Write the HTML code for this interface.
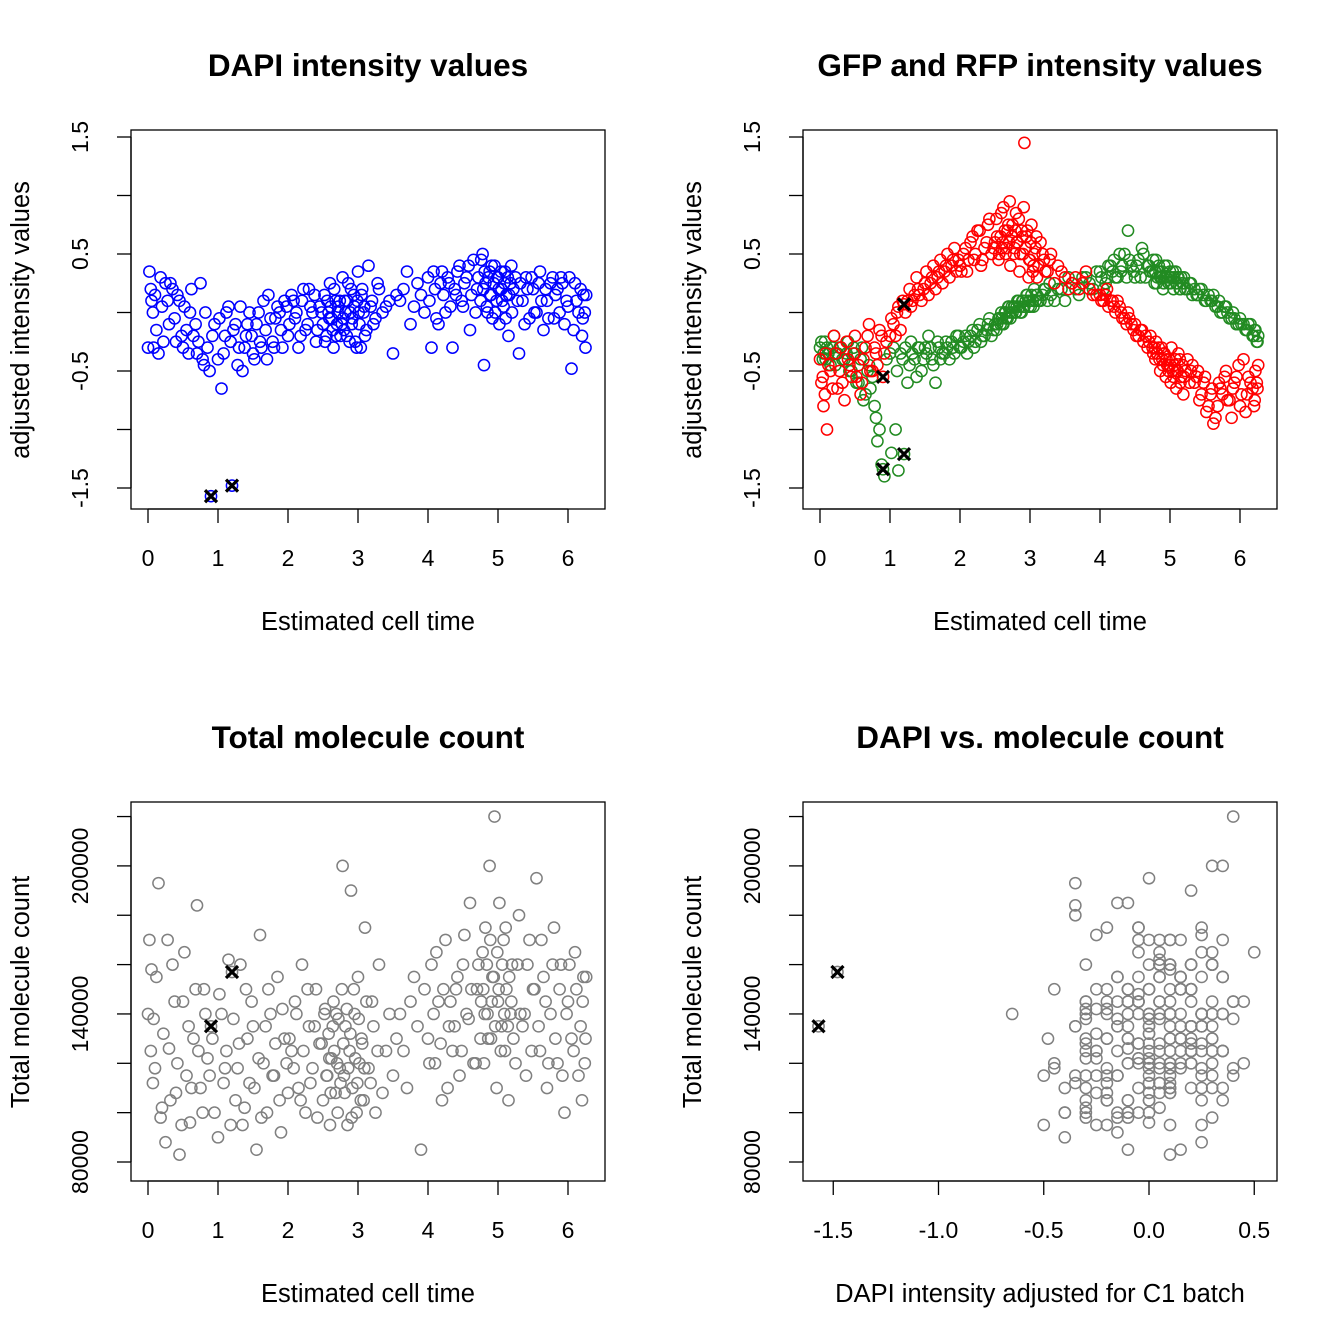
<!DOCTYPE html>
<html><head><meta charset="utf-8"><style>
html,body{margin:0;padding:0;background:#fff}
svg{display:block;font-family:"Liberation Sans",sans-serif}
</style></head><body>
<svg id="s" width="1344" height="1344" viewBox="0 0 1344 1344"></svg>
<script>
const timesA=[0.02,0.05,0.08,0.1,0.15,0.2,0.25,0.3,0.35,0.4,0.45,0.5,0.55,0.6,0.65,0.7,0.75,0.8,0.85,0.95,
1.0,1.05,1.1,1.15,1.25,1.3,1.35,1.4,1.45,1.5,1.55,1.6,1.65,1.7,1.75,1.8,1.85,1.9,1.95,2.0,
2.05,2.1,2.15,2.2,2.25,2.3,2.35,2.4,2.45,2.5,2.52,2.55,2.58,2.6,2.62,2.65,2.68,2.7,2.72,2.75,
2.78,2.8,2.82,2.85,2.88,2.9,2.92,2.95,2.98,3.0,3.02,3.05,3.08,3.1,3.15,3.2,3.25,3.3,3.4,3.5,
3.6,3.7,3.8,3.9,4.0,4.05,4.1,4.15,4.2,4.25,4.3,4.35,4.4,4.45,4.5,4.55,4.6,4.65,4.7,4.75,
4.78,4.8,4.82,4.85,4.88,4.9,4.92,4.95,4.98,5.0,5.02,5.05,5.08,5.1,5.12,5.15,5.18,5.2,5.25,5.3,
5.35,5.4,5.45,5.5,5.55,5.6,5.65,5.7,5.75,5.8,5.85,5.9,5.95,6.0,6.05,6.1,6.15,6.2,6.22,6.25];
const timesB=[0.0,0.04,0.07,0.12,0.18,0.22,0.28,0.32,0.38,0.42,0.48,0.52,0.58,0.62,0.68,0.72,0.78,0.82,0.88,0.92,
1.02,1.08,1.12,1.18,1.22,1.28,1.32,1.38,1.42,1.48,1.52,1.58,1.62,1.68,1.72,1.78,1.82,1.88,1.92,1.98,
2.02,2.08,2.12,2.18,2.22,2.28,2.32,2.38,2.42,2.48,2.53,2.56,2.59,2.61,2.64,2.66,2.69,2.71,2.74,2.77,
2.79,2.81,2.84,2.86,2.89,2.91,2.94,2.96,2.99,3.01,3.04,3.06,3.09,3.12,3.18,3.22,3.28,3.35,3.45,3.55,
3.65,3.75,3.85,3.95,4.02,4.08,4.12,4.18,4.22,4.28,4.32,4.38,4.42,4.48,4.52,4.58,4.62,4.68,4.72,4.76,
4.79,4.81,4.84,4.86,4.89,4.91,4.94,4.96,4.99,5.01,5.04,5.06,5.09,5.11,5.14,5.16,5.19,5.22,5.28,5.32,
5.38,5.42,5.48,5.52,5.58,5.62,5.68,5.72,5.78,5.82,5.88,5.92,5.98,6.02,6.08,6.12,6.18,6.21,6.24,6.26];
const dapiA=[0.35,0.1,-0.3,0.15,-0.35,0.05,0.25,-0.1,0.2,-0.25,0.1,-0.3,-0.15,0.0,-0.2,-0.35,0.25,-0.45,-0.3,-0.1,
-0.4,-0.65,-0.2,0.05,-0.1,-0.3,-0.5,-0.2,0.0,-0.35,-0.1,-0.25,0.1,-0.4,-0.05,-0.3,0.05,-0.15,0.1,-0.2,
0.15,-0.05,-0.3,0.1,-0.15,0.2,0.0,-0.25,0.05,-0.1,0.15,-0.2,0.0,0.25,-0.05,-0.3,0.1,-0.1,0.05,-0.2,
0.3,-0.15,0.0,0.1,-0.25,0.2,-0.05,0.05,-0.3,0.35,-0.1,0.15,0.0,-0.2,0.4,0.1,-0.05,0.2,0.05,-0.35,
0.1,0.35,0.05,0.15,0.3,-0.3,0.2,-0.1,0.35,0.0,0.25,-0.3,0.15,0.4,0.05,0.3,-0.15,0.45,0.2,0.1,
0.5,-0.45,0.25,0.0,0.35,0.15,-0.05,0.4,0.1,0.3,-0.1,0.2,0.05,0.35,0.15,-0.2,0.25,0.0,0.3,-0.35,
0.1,0.3,-0.05,0.2,0.0,0.35,-0.15,0.1,0.25,-0.05,0.2,0.3,-0.1,0.05,-0.48,0.25,0.0,-0.2,0.15,-0.3];
const dapiB=[-0.3,0.2,0.0,-0.15,0.3,-0.25,0.1,0.25,-0.05,0.15,-0.2,0.05,-0.35,0.2,-0.1,-0.25,-0.4,0.0,-0.5,-0.2,
-0.05,-0.35,0.0,-0.25,-0.15,-0.45,0.05,-0.3,-0.1,-0.2,-0.4,0.0,-0.3,-0.15,0.15,-0.25,-0.05,0.0,-0.3,0.05,
-0.1,0.1,0.0,-0.2,0.2,-0.1,0.05,0.15,-0.15,0.0,-0.25,0.1,-0.05,0.05,-0.15,0.2,-0.2,0.0,0.1,-0.1,
-0.05,0.1,-0.2,0.25,0.0,-0.1,0.15,-0.25,0.1,0.0,-0.3,0.2,0.05,-0.15,0.05,-0.1,0.25,0.0,0.1,0.15,
0.2,-0.1,0.25,0.0,0.1,0.35,-0.05,0.25,0.15,0.3,0.05,0.2,0.35,0.1,0.25,0.4,0.15,0.0,0.3,0.45,
0.2,0.35,0.05,0.3,0.15,0.4,0.25,0.0,0.3,0.2,0.35,0.1,0.25,-0.05,0.3,0.15,0.4,0.2,0.1,0.25,
-0.1,0.2,0.3,0.0,0.25,0.1,0.2,-0.05,0.3,0.15,0.0,0.25,0.1,0.3,-0.15,0.1,0.2,-0.05,0.0,0.15];
const gfpA=[-0.25,-0.35,-0.4,-0.3,-0.45,-0.2,-0.35,-0.3,-0.4,-0.25,-0.5,-0.35,-0.6,-0.3,-0.7,-0.45,-0.55,-0.9,-1.0,-0.4,
-0.35,-0.3,-0.5,-0.35,-0.6,-0.25,-0.4,-0.3,-0.5,-0.3,-0.2,-0.4,-0.6,-0.3,-0.35,-0.25,-0.4,-0.3,-0.2,-0.3,
-0.25,-0.35,-0.2,-0.3,-0.15,-0.25,-0.2,-0.1,-0.2,-0.1,-0.15,-0.05,-0.1,-0.05,-0.1,0.0,-0.05,0.05,-0.05,0.0,
0.05,0.0,0.1,0.05,0.0,0.1,0.05,0.15,0.05,0.1,0.15,0.05,0.1,0.15,0.1,0.2,0.1,0.15,0.2,0.1,
0.25,0.15,0.3,0.2,0.35,0.2,0.3,0.4,0.45,0.3,0.35,0.5,0.7,0.4,0.3,0.45,0.55,0.3,0.4,0.35,
0.25,0.45,0.3,0.35,0.3,0.2,0.4,0.3,0.25,0.35,0.3,0.2,0.35,0.25,0.3,0.2,0.25,0.3,0.2,0.25,
0.2,0.15,0.2,0.1,0.15,0.1,0.05,0.1,0.0,0.05,-0.05,0.0,-0.1,-0.05,-0.1,-0.15,-0.1,-0.2,-0.15,-0.25];
const gfpB=[-0.3,-0.4,-0.25,-0.35,-0.3,-0.45,-0.3,-0.4,-0.35,-0.5,-0.3,-0.6,-0.4,-0.75,-0.5,-0.65,-0.8,-1.1,-1.3,-1.4,
-1.2,-1.0,-1.35,-0.4,-0.3,-0.45,-0.35,-0.55,-0.3,-0.4,-0.35,-0.3,-0.45,-0.25,-0.4,-0.35,-0.3,-0.25,-0.35,-0.2,
-0.3,-0.2,-0.25,-0.15,-0.25,-0.1,-0.2,-0.15,-0.05,-0.15,-0.1,-0.05,0.0,-0.1,0.0,-0.05,0.05,0.0,0.05,0.05,
0.0,0.05,0.1,0.0,0.1,0.05,0.1,0.15,0.1,0.05,0.1,0.2,0.15,0.1,0.15,0.2,0.25,0.1,0.2,0.3,
0.2,0.3,0.25,0.35,0.3,0.25,0.4,0.35,0.3,0.5,0.4,0.3,0.45,0.35,0.4,0.3,0.5,0.4,0.35,0.45,
0.35,0.25,0.4,0.3,0.35,0.25,0.3,0.4,0.3,0.25,0.35,0.3,0.25,0.3,0.2,0.3,0.25,0.2,0.25,0.15,
0.15,0.2,0.15,0.1,0.1,0.15,0.05,0.0,0.05,0.0,-0.05,-0.05,-0.1,-0.1,-0.15,-0.1,-0.2,-0.15,-0.25,-0.2];
const rfpA=[-0.6,-0.8,-0.35,-1.0,-0.5,-0.2,-0.65,-0.3,-0.75,-0.4,-0.55,-0.2,-0.45,-0.6,-0.3,-0.1,-0.5,-0.35,-0.15,-0.25,
-0.2,-0.1,0.0,-0.15,0.1,0.05,0.15,0.2,0.1,0.25,0.15,0.3,0.2,0.35,0.25,0.4,0.3,0.45,0.35,0.4,
0.5,0.35,0.6,0.45,0.7,0.4,0.55,0.75,0.5,0.6,0.8,0.45,0.65,0.55,0.9,0.5,0.7,0.6,0.4,0.75,
0.55,0.85,0.6,0.35,0.7,0.5,1.45,0.65,0.3,0.45,0.75,0.4,0.55,0.3,0.6,0.45,0.35,0.5,0.4,0.3,
0.25,0.2,0.35,0.15,0.15,0.1,0.2,0.1,0.05,0.1,0.0,-0.05,0.0,-0.1,-0.1,-0.2,-0.15,-0.2,-0.25,-0.3,
-0.3,-0.25,-0.35,-0.4,-0.3,-0.45,-0.35,-0.4,-0.5,-0.45,-0.3,-0.55,-0.4,-0.5,-0.35,-0.6,-0.45,-0.55,-0.4,-0.5,
-0.6,-0.5,-0.7,-0.55,-0.8,-0.65,-0.9,-0.6,-0.7,-0.5,-0.75,-0.65,-0.55,-0.8,-0.4,-0.7,-0.6,-0.8,-0.5,-0.65];
const rfpB=[-0.4,-0.55,-0.7,-0.45,-0.65,-0.35,-0.5,-0.6,-0.25,-0.45,-0.35,-0.55,-0.7,-0.4,-0.2,-0.5,-0.3,-0.45,-0.2,-0.35,
-0.05,-0.2,0.05,0.1,0.0,0.2,0.1,0.3,0.15,0.2,0.35,0.25,0.4,0.3,0.45,0.35,0.5,0.4,0.55,0.45,
0.35,0.55,0.45,0.65,0.5,0.7,0.45,0.6,0.8,0.55,0.65,0.5,0.85,0.6,0.7,0.55,0.75,0.95,0.65,0.5,
0.7,0.6,0.8,0.5,0.65,0.9,0.55,0.7,0.45,0.6,0.35,0.5,0.65,0.4,0.5,0.35,0.45,0.25,0.35,0.2,
0.3,0.25,0.2,0.15,0.1,0.15,0.05,0.1,0.0,0.05,-0.05,-0.1,-0.05,-0.15,-0.2,-0.15,-0.25,-0.3,-0.2,-0.35,
-0.4,-0.35,-0.3,-0.5,-0.4,-0.35,-0.55,-0.45,-0.4,-0.6,-0.5,-0.45,-0.65,-0.5,-0.4,-0.55,-0.7,-0.5,-0.6,-0.45,
-0.55,-0.75,-0.6,-0.85,-0.7,-0.95,-0.8,-0.65,-0.55,-0.75,-0.9,-0.6,-0.45,-0.7,-0.85,-0.55,-0.65,-0.75,-0.6,-0.45];
const molKA=[170,158,138,118,193,102,88,126,160,108,83,145,115,96,130,184,110,150,122,100,
90,140,118,162,105,128,95,150,112,135,85,172,120,100,140,115,155,92,130,108,
125,145,110,160,100,135,118,150,128,105,140,115,132,95,122,145,108,120,138,112,
200,115,135,95,125,190,110,140,100,155,120,130,105,175,118,145,100,160,125,115,
140,110,155,85,130,160,120,145,105,170,135,125,150,115,160,140,185,120,150,130,
165,120,175,140,200,130,155,220,110,145,185,135,170,125,150,105,140,160,120,180,
135,115,170,150,195,125,155,110,140,175,120,160,100,145,130,165,115,105,155,130];
const molKB=[140,125,112,155,98,132,170,105,145,120,95,165,135,110,150,125,100,140,115,130,
148,112,125,95,138,118,160,102,130,145,110,122,98,135,150,115,128,105,142,120,
130,118,140,105,125,150,112,135,98,128,142,115,122,108,135,125,140,100,118,150,
128,108,142,118,132,98,150,122,112,138,105,128,118,145,112,135,125,108,140,130,
125,145,135,150,120,140,165,128,150,110,145,135,155,125,172,138,150,120,160,145,
150,140,160,130,170,145,155,135,165,150,125,160,140,175,135,155,145,130,160,140,
140,160,125,150,135,170,145,120,160,130,150,115,140,160,125,150,135,145,120,155];
const hiTimes=[0.9,1.2];
const hiDapi=[-1.57,-1.48];
const hiGfp=[-1.34,-1.21];
const hiRfp=[-0.55,0.07];
const hiMolK=[135,157];
const timeTicks=[0,1,2,3,4,5,6];
const intTicks=[-1.5,-1,-0.5,0,0.5,1,1.5];
const intLabels=["-1.5","-0.5","0.5","1.5"];
const molTicks=[80,100,120,140,160,180,200,220];
const molLabels=["80000","140000","200000"];
const dapiTicks=[-1.5,-1.0,-0.5,0.0,0.5];

const times=timesA.concat(timesB);
const dapi=dapiA.concat(dapiB);
const gfp=gfpA.concat(gfpB);
const rfp=rfpA.concat(rfpB);
const molK=molKA.concat(molKB);

const S=document.getElementById('s');
const NS='http://www.w3.org/2000/svg';
function el(tag,attrs,parent){const e=document.createElementNS(NS,tag);for(const k in attrs)e.setAttribute(k,attrs[k]);(parent||S).appendChild(e);return e;}
function txt(str,x,y,size,opts,parent){const t=el('text',Object.assign({x:x,y:y,'font-size':size,'text-anchor':'middle',fill:'#000'},opts||{}),parent);t.textContent=str;return t;}

function panel(cfg){
  const g=el('g',{});
  
  
  const bx=cfg.bx, by=cfg.by;
  const X=v=>cfg.x0+(v-cfg.xa)*cfg.xs;
  const Y=v=>cfg.y0-(v-cfg.ya)*cfg.ys;
  const box=el('rect',{x:bx,y:by,width:474,height:379,fill:'none',stroke:'#000','stroke-width':1.3},g);
  
  
  const xa=el('g',{},g);
  
  
  const xt=cfg.xticks;
  el('line',{x1:X(xt[0]),x2:X(xt[xt.length-1]),y1:by+379,y2:by+379,stroke:'#000','stroke-width':1.3},xa);
  xt.forEach((v,i)=>{el('line',{x1:X(v),x2:X(v),y1:by+379,y2:by+393,stroke:'#000','stroke-width':1.3},xa);
    const t=txt(cfg.xlabels[i],X(v),by+436,23,{},xa);
    
    });
  const ya=el('g',{},g);
  
  
  const yt=cfg.yticks;
  el('line',{x1:bx,x2:bx,y1:Y(yt[0]),y2:Y(yt[yt.length-1]),stroke:'#000','stroke-width':1.3},ya);
  yt.forEach(v=>el('line',{x1:bx,x2:bx-14,y1:Y(v),y2:Y(v),stroke:'#000','stroke-width':1.3},ya));
  cfg.ylabs.forEach((lab,i)=>{const yy=Y(cfg.ylabVals[i]);
    const t=txt(lab,0,0,23,{transform:`translate(${bx-43},${yy}) rotate(-90)`},ya);
    
    });
  const ti=txt(cfg.title,bx+237,by-54,31.5,{'font-weight':'bold'},g);
  
  
  const xl=txt(cfg.xtitle,bx+237,by+500,25.5,{},g);
  
  
  const yl=txt(cfg.ytitle,0,0,25.5,{transform:`translate(${bx-102},${by+190}) rotate(-90)`},g);
  
  
  cfg.series.forEach(s=>{
    const sg=el('g',{},g);
    
    
    s.xs.forEach((xv,i)=>{const c=el('circle',{cx:X(xv),cy:Y(s.ys[i]),r:5.6,fill:'none',stroke:s.color,'stroke-width':1.5},sg);
      
      });
  });
  cfg.hi.forEach(h=>{
    const hg=el('g',{},g);
    
    
    h.xs.forEach((xv,i)=>{const cx=X(xv),cy=Y(h.ys[i]);
      el('circle',{cx:cx,cy:cy,r:5.6,fill:'none',stroke:h.color,'stroke-width':1.5},hg);
      const m=el('path',{d:`M${cx-6},${cy-6}L${cx+6},${cy+6}M${cx-6},${cy+6}L${cx+6},${cy-6}`,stroke:'#000','stroke-width':3.2},hg);
      
      });
  });
}
const tScale={x0:148,xa:0,xs:70,xticks:timeTicks,xlabels:timeTicks.map(String),xtitle:'Estimated cell time'};
const iScale={y0:312.5,ya:0,ys:117,yticks:intTicks,ylabs:intLabels,ylabVals:intLabels.map(Number),ytitle:'adjusted intensity values'};
panel(Object.assign({name:'dapi-panel',bx:131,by:130,title:'DAPI intensity values',
  series:[{name:'dapi-points',xs:times,ys:dapi,color:'#0000ff'}],
  hi:[{name:'highlighted-cells',xs:hiTimes,ys:hiDapi,color:'#0000ff'}]},tScale,iScale));
panel(Object.assign({},tScale,iScale,{name:'gfp-rfp-panel',bx:803,by:130,x0:820,title:'GFP and RFP intensity values',
  series:[{name:'gfp-points',xs:times,ys:gfp,color:'#228b22'},{name:'rfp-points',xs:times,ys:rfp,color:'#ff0000'}],
  hi:[{name:'highlighted-gfp',xs:hiTimes,ys:hiGfp,color:'#228b22'},{name:'highlighted-rfp',xs:hiTimes,ys:hiRfp,color:'#ff0000'}]}));
const mScale={y0:1162,ya:80,ys:49.35/20,yticks:molTicks,ylabs:molLabels,ylabVals:[80,140,200],ytitle:'Total molecule count'};
panel(Object.assign({name:'molecule-panel',bx:131,by:802,title:'Total molecule count',
  series:[{name:'molecule-points',xs:times,ys:molK,color:'#808080'}],
  hi:[{name:'highlighted-cells',xs:hiTimes,ys:hiMolK,color:'#808080'}]},tScale,mScale));
panel(Object.assign({},mScale,{name:'dapi-vs-molecule-panel',bx:803,by:802,x0:1149,xa:0,xs:210.5,
  xticks:dapiTicks,xlabels:["-1.5","-1.0","-0.5","0.0","0.5"],xtitle:'DAPI intensity adjusted for C1 batch',
  title:'DAPI vs. molecule count',
  series:[{name:'dapi-molecule-points',xs:dapi,ys:molK,color:'#808080'}],
  hi:[{name:'highlighted-cells',xs:hiDapi,ys:hiMolK,color:'#808080'}]}));
</script>
</body></html>
